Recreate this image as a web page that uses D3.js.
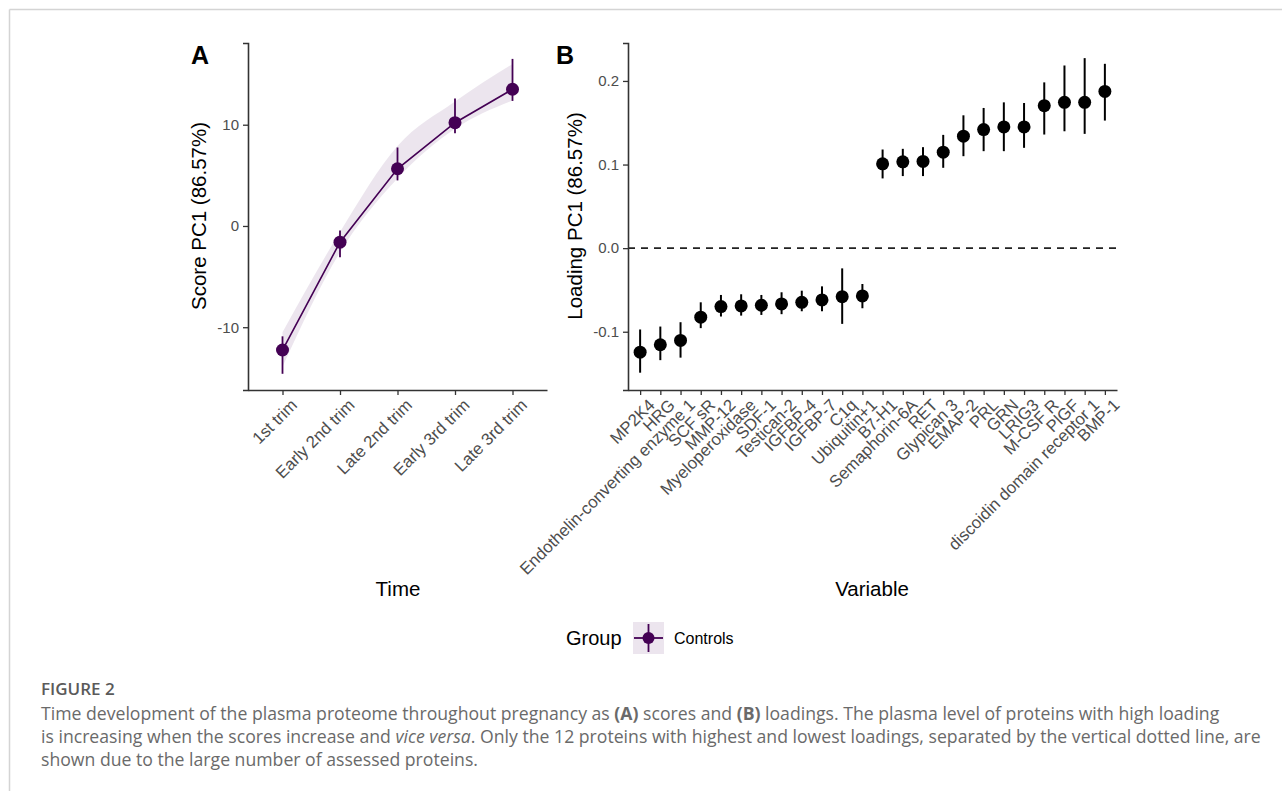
<!DOCTYPE html>
<html><head><meta charset="utf-8">
<script src="https://cdn.jsdelivr.net/npm/d3@7"></script>
<style>
html,body{margin:0;padding:0;background:#fff;}
svg{display:block;}
</style></head>
<body>
<svg id="chart" width="1282" height="791"></svg>
<script>
// ---------- DATA ----------
const timeCats = ["1st trim","Early 2nd trim","Late 2nd trim","Early 3rd trim","Late 3rd trim"];
const scoreMean = [-12.25, -1.6, 5.65, 10.2, 13.5];
const scoreErrLo = [-14.6, -3.1, 4.5, 9.15, 12.35];
const scoreErrHi = [-10.9, -0.45, 7.75, 12.6, 16.5];
const ribbonLo = [-13.9, -2.6, 4.7, 9.6, 12.4];
const ribbonHi = [-10.5, -0.6, 7.9, 12.3, 16.0];
const scoreTicks = [-10, 0, 10];

const variables = ["MP2K4","HRG","Endothelin-converting enzyme 1","SCF sR","MMP-12","Myeloperoxidase","SDF-1","Testican-2","IGFBP-4","IGFBP-7","C1q","Ubiquitin+1","B7-H1","Semaphorin-6A","RET","Glypican 3","EMAP-2","PRL","GRN","LRIG3","M-CSF R","PlGF","discoidin domain receptor 1","BMP-1"];
const loading = [-0.1244,-0.1156,-0.1104,-0.0826,-0.0699,-0.0691,-0.0683,-0.0667,-0.0648,-0.062,-0.058,-0.0572,0.1009,0.1033,0.1037,0.1148,0.1339,0.1418,0.145,0.145,0.1704,0.1744,0.1744,0.1875];
const loadingLo = [-0.149,-0.134,-0.131,-0.0957,-0.0818,-0.0807,-0.0799,-0.079,-0.0755,-0.0755,-0.0906,-0.0719,0.0834,0.0862,0.0862,0.0961,0.110,0.116,0.116,0.120,0.1359,0.1398,0.1367,0.1526];
const loadingHi = [-0.0973,-0.0938,-0.0886,-0.0648,-0.056,-0.0552,-0.056,-0.0528,-0.0509,-0.0457,-0.0242,-0.0429,0.118,0.1188,0.1208,0.1355,0.1589,0.1677,0.1744,0.1736,0.1983,0.2185,0.2273,0.2205];
const loadingTicks = [-0.1, 0.0, 0.1, 0.2];

const groupName = "Controls";
const captionTitle = "FIGURE 2";

// ---------- SETUP ----------
const svg = d3.select("#chart");
const purple = "#440154";
const axisCol = "#333333";
const tickTextCol = "#4d4d4d";
const font = "'Liberation Sans', Arial, sans-serif";
const hyphenFmt = f => (d => f(d).replace("\u2212","-"));

// page frame
svg.append("line").attr("x1",9.5).attr("x2",1282).attr("y1",9.5).attr("y2",9.5).attr("stroke","#d4d4d4").attr("stroke-width",1.5);
svg.append("line").attr("x1",9.5).attr("x2",9.5).attr("y1",9.5).attr("y2",791).attr("stroke","#d4d4d4").attr("stroke-width",1.5);

const axisY0 = 390;
const axisTop = 43;

function styleAxis(g){
  g.select(".domain").attr("stroke",axisCol).attr("stroke-width",1.6);
  g.selectAll(".tick line").attr("stroke",axisCol).attr("stroke-width",1.3);
  g.selectAll(".tick text").attr("fill",tickTextCol).attr("font-family",font).attr("font-size",15);
}
function rotateLabels(g){
  g.selectAll(".tick text")
    .attr("font-size",16.8)
    .attr("text-anchor","end").attr("transform","translate(3,4) rotate(-45)").attr("dy","0.55em").attr("dx","0");
}

// ---------- PANEL A ----------
const xA = d3.scalePoint().domain(timeCats).range([248, 547]).padding(0.6);
const yA = d3.scaleLinear().domain([-16.2, 18.07]).range([axisY0, axisTop]);
const gA = svg.append("g");

const ribbonData = timeCats.map((c,i)=>({c, lo:ribbonLo[i], hi:ribbonHi[i]}));
gA.append("path").datum(ribbonData)
  .attr("d", d3.area().x(d=>xA(d.c)).y0(d=>yA(d.lo)).y1(d=>yA(d.hi)).curve(d3.curveMonotoneX))
  .attr("fill", purple).attr("fill-opacity", 0.1);

const lineData = timeCats.map((c,i)=>({c, v:scoreMean[i]}));
gA.append("path").datum(lineData)
  .attr("d", d3.line().x(d=>xA(d.c)).y(d=>yA(d.v)))
  .attr("fill","none").attr("stroke",purple).attr("stroke-width",1.6);

gA.selectAll(".eb").data(timeCats).enter().append("line")
  .attr("x1",d=>xA(d)).attr("x2",d=>xA(d))
  .attr("y1",(d,i)=>yA(scoreErrLo[i])).attr("y2",(d,i)=>yA(scoreErrHi[i]))
  .attr("stroke",purple).attr("stroke-width",1.8);
gA.selectAll(".pt").data(timeCats).enter().append("circle")
  .attr("cx",d=>xA(d)).attr("cy",(d,i)=>yA(scoreMean[i])).attr("r",6.5).attr("fill",purple);

const axA_y = gA.append("g").attr("transform","translate(248,0)")
  .call(d3.axisLeft(yA).tickValues(scoreTicks).tickSize(5).tickPadding(4).tickFormat(hyphenFmt(d3.format("d"))));
styleAxis(axA_y);
const axA_x = gA.append("g").attr("transform",`translate(0,${axisY0})`)
  .call(d3.axisBottom(xA).tickSize(5).tickSizeOuter(0));
styleAxis(axA_x);
rotateLabels(axA_x);

svg.append("text").attr("x",398).attr("y",596).attr("text-anchor","middle")
  .attr("font-family",font).attr("font-size",20.5).attr("fill","#000").text("Time");
svg.append("text").attr("transform","translate(206,216) rotate(-90)").attr("text-anchor","middle")
  .attr("font-family",font).attr("font-size",20.5).attr("fill","#000").text("Score PC1 (86.57%)");
svg.append("text").attr("x",191).attr("y",64).attr("font-family",font).attr("font-weight","bold").attr("font-size",25).text("A");

// ---------- PANEL B ----------
const xB = d3.scalePoint().domain(variables).range([628, 1117]).padding(0.6);
const yB = d3.scaleLinear().domain([-0.1697, 0.2454]).range([axisY0, axisTop]);
const gB = svg.append("g");

gB.append("line").attr("x1",628).attr("x2",1117).attr("y1",yB(0)).attr("y2",yB(0))
  .attr("stroke","#222").attr("stroke-width",1.6).attr("stroke-dasharray","7,6");

gB.selectAll(".eb").data(variables).enter().append("line")
  .attr("x1",d=>xB(d)).attr("x2",d=>xB(d))
  .attr("y1",(d,i)=>yB(loadingLo[i])).attr("y2",(d,i)=>yB(loadingHi[i]))
  .attr("stroke","#000").attr("stroke-width",2);
gB.selectAll(".pt").data(variables).enter().append("circle")
  .attr("cx",d=>xB(d)).attr("cy",(d,i)=>yB(loading[i])).attr("r",6.5).attr("fill","#000");

const axB_y = gB.append("g").attr("transform","translate(628,0)")
  .call(d3.axisLeft(yB).tickValues(loadingTicks).tickSize(5).tickPadding(4).tickFormat(hyphenFmt(d3.format(".1f"))));
styleAxis(axB_y);
const axB_x = gB.append("g").attr("transform",`translate(0,${axisY0})`)
  .call(d3.axisBottom(xB).tickSize(5).tickSizeOuter(0));
styleAxis(axB_x);
rotateLabels(axB_x);

svg.append("text").attr("x",872).attr("y",596).attr("text-anchor","middle")
  .attr("font-family",font).attr("font-size",20.5).attr("fill","#000").text("Variable");
svg.append("text").attr("transform","translate(582,216) rotate(-90)").attr("text-anchor","middle")
  .attr("font-family",font).attr("font-size",20.5).attr("fill","#000").text("Loading PC1 (86.57%)");
svg.append("text").attr("x",556).attr("y",64).attr("font-family",font).attr("font-weight","bold").attr("font-size",25).text("B");

// ---------- LEGEND ----------
const lg = svg.append("g");
lg.append("text").attr("x",566).attr("y",645).attr("font-family",font).attr("font-size",20).text("Group");
lg.append("rect").attr("x",633).attr("y",622).attr("width",31).attr("height",32).attr("fill",purple).attr("fill-opacity",0.1);
lg.append("line").attr("x1",634).attr("x2",663).attr("y1",638).attr("y2",638).attr("stroke",purple).attr("stroke-width",1.8);
lg.append("line").attr("x1",648.5).attr("x2",648.5).attr("y1",624).attr("y2",652).attr("stroke",purple).attr("stroke-width",1.8);
lg.append("circle").attr("cx",648.5).attr("cy",638).attr("r",6).attr("fill",purple);
lg.append("text").attr("x",674).attr("y",643.5).attr("font-family",font).attr("font-size",16).text(groupName);

// ---------- CAPTION ----------
const capFont = "'Open Sans', Lato, sans-serif";
svg.append("text").attr("x",41).attr("y",695).attr("font-family",capFont).attr("font-size",17).attr("font-weight",600)
  .attr("fill","#5a5a5a").text(captionTitle);
const cap = svg.append("text").attr("font-family",capFont).attr("font-size",16).attr("fill","#6a6a6a");
const l1 = cap.append("tspan").attr("x",41).attr("y",720);
l1.append("tspan").text("Time development of the plasma proteome throughout pregnancy as ");
l1.append("tspan").attr("font-weight","bold").text("(A)");
l1.append("tspan").text(" scores and ");
l1.append("tspan").attr("font-weight","bold").text("(B)");
l1.append("tspan").text(" loadings. The plasma level of proteins with high loading");
const l2 = cap.append("tspan").attr("x",41).attr("y",743);
l2.append("tspan").text("is increasing when the scores increase and ");
l2.append("tspan").attr("font-style","italic").text("vice versa");
l2.append("tspan").text(". Only the 12 proteins with highest and lowest loadings, separated by the vertical dotted line, are");
cap.append("tspan").attr("x",41).attr("y",766).text("shown due to the large number of assessed proteins.");
// fit caption size so that line 2 spans the reference width
const w2 = l2.node().getComputedTextLength ? (()=>{ let s=0; l2.selectAll("tspan").each(function(){ s+=this.getComputedTextLength(); }); return s; })() : 0;
if (w2 > 0) cap.attr("font-size", 16 * 1221 / w2);
</script>
</body></html>
